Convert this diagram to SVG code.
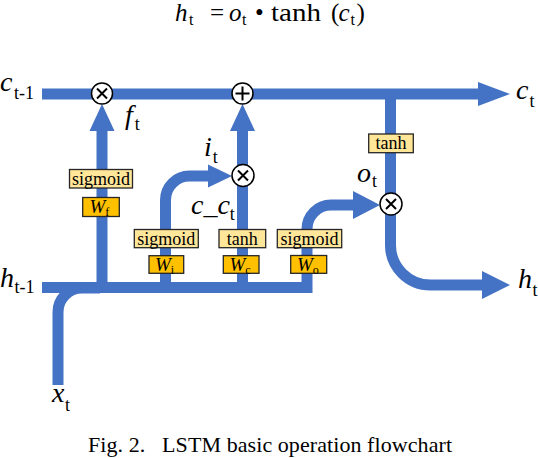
<svg xmlns="http://www.w3.org/2000/svg" width="538" height="458" viewBox="0 0 538 458" font-family="'Liberation Serif', Tinos, 'Times New Roman', serif">
<style>
.flow{fill:none;stroke:#4472C4;stroke-width:11;stroke-linejoin:miter}
.head{fill:#4472C4}
.fn{fill:#FFE699;stroke:#262626;stroke-width:1.3}
.w{fill:#FFC000;stroke:#262626;stroke-width:1.3}
text{fill:#000}
.bt{font-size:18px;text-anchor:middle}
.wt{font-size:19px;font-style:italic}
.ws{font-size:12px;font-style:normal}
.lab{font-size:28px;font-style:italic}
.sub{font-style:normal;font-size:18px}
.op{fill:#fff;stroke:#000;stroke-width:1.5}
.mk{stroke:#000;stroke-width:2;fill:none}
</style>
<rect width="538" height="458" fill="#fff"/>
<g id="formula">
<text x="175" y="21" font-size="25" font-style="italic">h</text>
<text x="189" y="25" font-size="16">t</text>
<text x="210" y="21" font-size="25">=</text>
<text x="229" y="21" font-size="25" font-style="italic">o</text>
<text x="242" y="25" font-size="16">t</text>
<text x="255" y="21" font-size="25">•</text>
<text x="271" y="21" font-size="25" textLength="50" lengthAdjust="spacingAndGlyphs">tanh</text>
<text x="331" y="21" font-size="25">(</text>
<text x="338.5" y="21" font-size="25" font-style="italic">c</text>
<text x="350.5" y="25" font-size="16">t</text>
<text x="356.5" y="21" font-size="25">)</text>
</g>
<g id="connectors">
<path class="flow" d="M42,94 H480"/>
<polygon class="head" points="478,82 510,94 478,106"/>
<path class="flow" d="M102,288 V129"/>
<polygon class="head" points="89.5,131 102,104 114.5,131"/>
<path class="flow" d="M242.5,288 V129"/>
<polygon class="head" points="230,131 242.5,104 255,131"/>
<path class="flow" d="M165.5,288 V200 A24,24 0 0 1 189.5,176 H210"/>
<polygon class="head" points="208,164.5 232,176 208,187.5"/>
<path class="flow" d="M42,287.5 H307 V229 A24,24 0 0 1 331,205 H355"/>
<polygon class="head" points="353,191 380,205 353,219"/>
<path class="flow" d="M390.5,94 V245 A40,40 0 0 0 430.5,285 H484"/>
<polygon class="head" points="482,271 510,285 482,299"/>
<path class="flow" d="M58,385 V312 A24,24 0 0 1 82,288 H100"/>
</g>
<g id="mul_f"><circle class="op" cx="102" cy="93.5" r="10.5"/><path class="mk" d="M97,88.5 L107,98.5 M107,88.5 L97,98.5"/></g>
<g id="add_c"><circle class="op" cx="242.5" cy="93.5" r="10.5"/><path class="mk" d="M235.5,93.5 H249.5 M242.5,86.5 V100.5"/></g>
<g id="mul_i"><circle class="op" cx="243" cy="175.5" r="11"/><path class="mk" d="M238,170.5 L248,180.5 M248,170.5 L238,180.5"/></g>
<g id="mul_o"><circle class="op" cx="391" cy="204" r="11"/><path class="mk" d="M386,199 L396,209 M396,199 L386,209"/></g>
<g id="sig_f"><rect class="fn" x="69.5" y="169.5" width="63" height="18.5"/><text class="bt" x="101" y="184.5">sigmoid</text></g>
<g id="w_f"><rect class="w" x="82.7" y="197.5" width="36.6" height="19"/><text class="wt" x="89.5" y="212.5">W<tspan class="ws" dy="3">f</tspan></text></g>
<g id="sig_i"><rect class="fn" x="134.3" y="229.5" width="64" height="18.2"/><text class="bt" x="166.3" y="244.5">sigmoid</text></g>
<g id="w_i"><rect class="w" x="149" y="255.7" width="34.7" height="17.6"/><text class="wt" x="155" y="270.5">W<tspan class="ws" dy="3">i</tspan></text></g>
<g id="tanh_c"><rect class="fn" x="219" y="229.5" width="46.7" height="18.2"/><text class="bt" x="242.3" y="244.5">tanh</text></g>
<g id="w_c"><rect class="w" x="223.3" y="255.7" width="35.7" height="17.6"/><text class="wt" x="229.5" y="270.5">W<tspan class="ws" font-style="italic" dy="3">c</tspan></text></g>
<g id="sig_o"><rect class="fn" x="277.3" y="229.5" width="64.4" height="18.2"/><text class="bt" x="309.5" y="244.5">sigmoid</text></g>
<g id="w_o"><rect class="w" x="290.7" y="255.5" width="36" height="17.8"/><text class="wt" x="297" y="270.5">W<tspan class="ws" dy="3">o</tspan></text></g>
<g id="tanh_o"><rect class="fn" x="368.7" y="134" width="44.6" height="18.7"/><text class="bt" x="391" y="149">tanh</text></g>
<g id="labels">
<text class="lab" x="0" y="91">c<tspan class="sub" dx="1.5" dy="8">t-1</tspan></text>
<text class="lab" x="516" y="99">c<tspan class="sub" dx="1" dy="8">t</tspan></text>
<text class="lab" x="0" y="287">h<tspan class="sub" dx="0.5" dy="6">t-1</tspan></text>
<text class="lab" x="518" y="288">h<tspan class="sub" dx="0.5" dy="8">t</tspan></text>
<text class="lab" x="52" y="402">x<tspan class="sub" dx="0.5" dy="9">t</tspan></text>
<text class="lab" x="125" y="124">f<tspan class="sub" dx="2" dy="6">t</tspan></text>
<text class="lab" x="204" y="156">i<tspan class="sub" dx="1" dy="7">t</tspan></text>
<text class="lab" x="191" y="214">c_c<tspan class="sub" dy="6">t</tspan></text>
<text class="lab" x="357" y="182">o<tspan class="sub" dx="1" dy="5">t</tspan></text>
</g>
<text x="88" y="452" font-size="22" xml:space="preserve" textLength="364" lengthAdjust="spacing">Fig. 2.   LSTM basic operation flowchart</text>
</svg>
